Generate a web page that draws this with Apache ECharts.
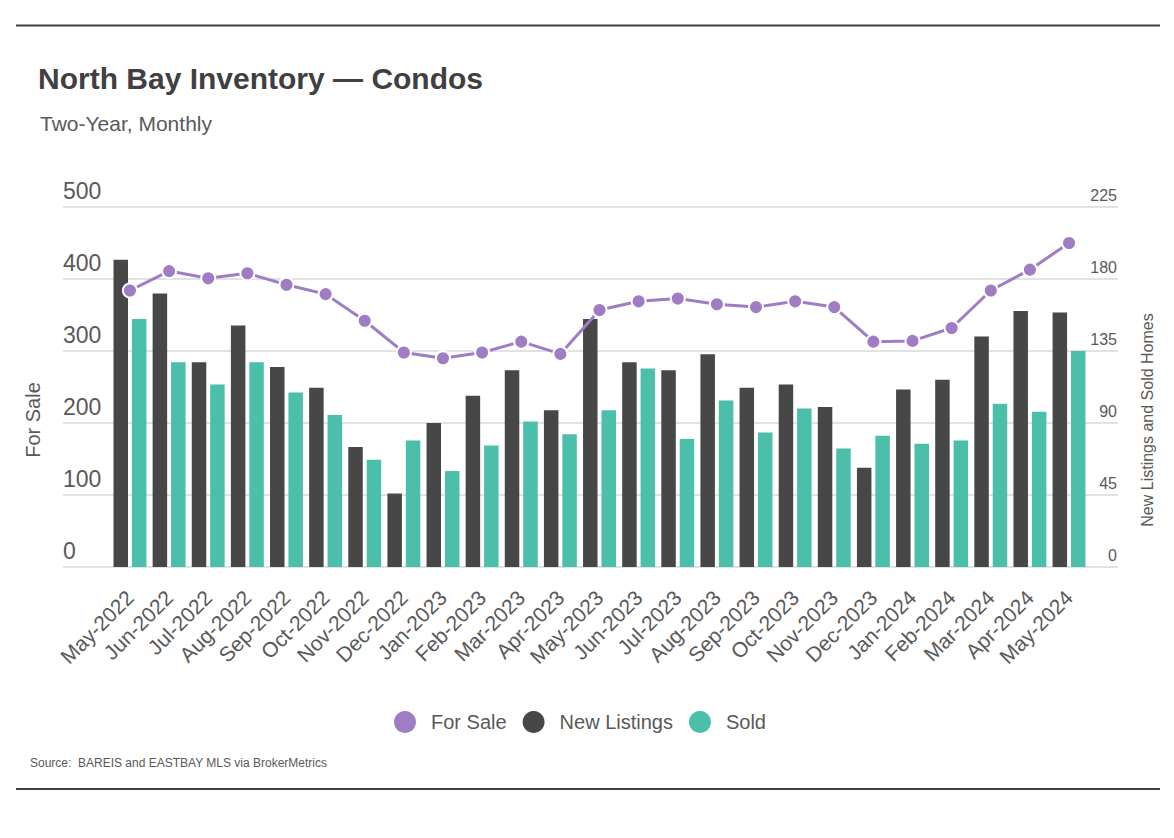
<!DOCTYPE html>
<html><head><meta charset="utf-8">
<script src="https://cdn.jsdelivr.net/npm/echarts@6/dist/echarts.min.js"></script>
<style>html,body{margin:0;padding:0;background:#fff}#c{width:1174px;height:838px}</style>
</head><body><div id="c"></div>
<script>
const categories = ['May-2022','Jun-2022','Jul-2022','Aug-2022','Sep-2022','Oct-2022','Nov-2022','Dec-2022','Jan-2023','Feb-2023','Mar-2023','Apr-2023','May-2023','Jun-2023','Jul-2023','Aug-2023','Sep-2023','Oct-2023','Nov-2023','Dec-2023','Jan-2024','Feb-2024','Mar-2024','Apr-2024','May-2024'];
const forSale = [384,411,401,408,392,379,342,298,290,298,313,296,357,369,373,365,361,369,361,313,314,332,384,413,450];
const newListings = [192,171,128,151,125,112,75,46,90,107,123,98,155,128,123,133,112,114,100,62,111,117,144,160,159];
const sold = [155,128,114,128,109,95,67,79,60,76,91,83,98,124,80,104,84,99,74,82,77,79,102,97,135];
const leftMin = 0, leftMax = 500, leftStep = 100;
const rightMin = 0, rightMax = 225, rightStep = 45;
const titleText = 'North Bay Inventory — Condos';
const subtitleText = 'Two-Year, Monthly';
const sourceText = 'Source:  BAREIS and EASTBAY MLS via BrokerMetrics';
const leftAxisName = 'For Sale';
const rightAxisName = 'New Listings and Sold Homes';

const FONT = '"Liberation Sans", Arial, sans-serif';
const GRAY = '#595959';
const chart = echarts.init(document.getElementById('c'), null, {renderer: 'svg'});
chart.setOption({
  animation: false,
  backgroundColor: '#fff',
  graphic: [
    {type:'line', shape:{x1:16,y1:25.5,x2:1160,y2:25.5}, style:{stroke:'#404040', lineWidth:2}},
    {type:'line', shape:{x1:16,y1:789,x2:1160,y2:789}, style:{stroke:'#404040', lineWidth:2}},
    {type:'text', x:38, y:78, style:{text:titleText, font:'bold 30px ' + FONT, fill:'#404040', verticalAlign:'middle'}},
    {type:'text', x:40, y:123.5, style:{text:subtitleText, font:'21px ' + FONT, fill:GRAY, verticalAlign:'middle'}},
    {type:'text', x:30, y:763, style:{text:sourceText, font:'12px ' + FONT, fill:GRAY, verticalAlign:'middle'}},
    {type:'text', x:33, y:420, rotation:Math.PI/2, style:{text:leftAxisName, font:'20px ' + FONT, fill:GRAY, align:'center', verticalAlign:'middle'}},
    {type:'text', x:1147, y:420, rotation:Math.PI/2, style:{text:rightAxisName, font:'16px ' + FONT, fill:GRAY, align:'center', verticalAlign:'middle'}}
  ],
  legend: {
    left: 389, top: 706,
    icon: 'circle', itemWidth: 22, itemHeight: 22, itemGap: 16,
    itemStyle: {borderWidth: 0},
    textStyle: {fontFamily: FONT, fontSize: 20, color: GRAY, padding: [0,0,0,10]},
    data: ['For Sale','New Listings','Sold']
  },
  grid: [
    {left: 63, right: 56, top: 207, bottom: 271},
    {left: 110.4, right: 85.4, top: 207, bottom: 271}
  ],
  xAxis: [
    {type:'value', gridIndex:0, min:0, max:1, show:false},
    {type:'category', gridIndex:1, data: categories, boundaryGap: true,
     axisLine:{show:false}, axisTick:{show:false},
     axisLabel:{rotate:45, interval:0, margin:27, color:GRAY, fontFamily:FONT, fontSize:21}}
  ],
  yAxis: [
    {type:'value', gridIndex:0, position:'left', min:leftMin, max:leftMax, interval:leftStep,
     axisLine:{show:false}, axisTick:{show:false},
     splitLine:{show:true, lineStyle:{color:'#d9d9d9', width:1.5}},
     axisLabel:{inside:true, margin:0, align:'left', verticalAlign:'bottom', padding:[0,0,5,0], lineHeight:23, color:GRAY, fontFamily:FONT, fontSize:23}},
    {type:'value', gridIndex:0, position:'right', min:rightMin, max:rightMax, interval:rightStep,
     axisLine:{show:false}, axisTick:{show:false}, splitLine:{show:false},
     axisLabel:{inside:true, margin:1, align:'right', verticalAlign:'bottom', padding:[0,0,4,0], lineHeight:16, color:GRAY, fontFamily:FONT, fontSize:16}},
    {type:'value', gridIndex:1, min:leftMin, max:leftMax, show:false},
    {type:'value', gridIndex:1, position:'right', min:rightMin, max:rightMax, show:false}
  ],
  series: [
    {name:'For Sale', type:'line', xAxisIndex:1, yAxisIndex:2, data: forSale, z:5,
     symbol:'circle', symbolSize:14,
     lineStyle:{color:'#a07cc5', width:3},
     itemStyle:{color:'#a07cc5', borderColor:'#fff', borderWidth:2}},
    {name:'New Listings', type:'bar', xAxisIndex:1, yAxisIndex:3, data: newListings,
     barWidth:14.5, barGap:'27%', itemStyle:{color:'#474747'}},
    {name:'Sold', type:'bar', xAxisIndex:1, yAxisIndex:3, data: sold,
     barWidth:14.5, barGap:'27%', itemStyle:{color:'#4bbfa9'}}
  ]
});
</script></body></html>
